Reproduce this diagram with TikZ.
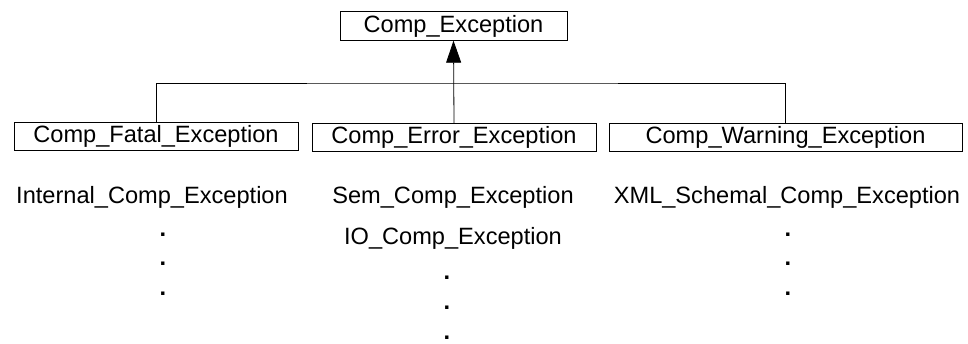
\documentclass[tikz,border=0pt]{standalone}
\usepackage{fontspec}
\setmainfont{Liberation Sans}
\usepackage{tikz}
\usetikzlibrary{arrows.meta}

\begin{document}
\begin{tikzpicture}[x=1pt,y=-1pt,
    font=\fontsize{23.6}{28}\selectfont,
    classbox/.style={draw,line width=0.9pt,inner sep=0pt,minimum height=28.5pt},
    member/.style={inner sep=0pt},
    dotmark/.style={inner sep=0pt,font=\fontsize{23.6}{28}\selectfont\bfseries}]
          \useasboundingbox (0,0) rectangle (968,343);
          % Comp_Exception
          \node[classbox,minimum width=227pt] (comp) at (453.5,26) {Comp\_Exception};
          % Fatal, Error and Warning
          \node[classbox,minimum width=284pt] (fatal) at (156,136.5) {Comp\_Fatal\_Exception};
          \node[classbox,minimum width=284pt] (error) at (454,137.5) {Comp\_Error\_Exception};
          \node[classbox,minimum width=353pt] (warning) at (785.5,137.5) {Comp\_Warning\_Exception};
          % line joining the three subclasses
          \coordinate (join) at (454,83);
          \draw [line width=0.8pt] (fatal.north) |- (join) -| (warning.north);
          % line up to Comp_Exception
          \draw [line width=0.8pt,-{Triangle[length=22pt,width=15pt]}] (error.north) -- (comp.south);
          % fatal exceptions
          \node[member] (internal) at (152,197) {Internal\_Comp\_Exception};
          \node[dotmark] (fdot1) at (163,235) {.};
          \node[dotmark] (fdot2) at (163,264) {.};
          \node[dotmark] (fdot3) at (163,294) {.};
          % error exceptions
          \node[member] (sem) at (453,197) {Sem\_Comp\_Exception};
          \node[member] (io) at (453,238) {IO\_Comp\_Exception};
          \node[dotmark] (edot1) at (447,278) {.};
          \node[dotmark] (edot2) at (447,308) {.};
          \node[dotmark] (edot3) at (447,338) {.};
          % warning exceptions
          \node[member] (xml) at (787,197) {XML\_Schemal\_Comp\_Exception};
          \node[dotmark] (wdot1) at (788,235) {.};
          \node[dotmark] (wdot2) at (788,264) {.};
          \node[dotmark] (wdot3) at (788,294) {.};
        \end{tikzpicture}
\end{document}
